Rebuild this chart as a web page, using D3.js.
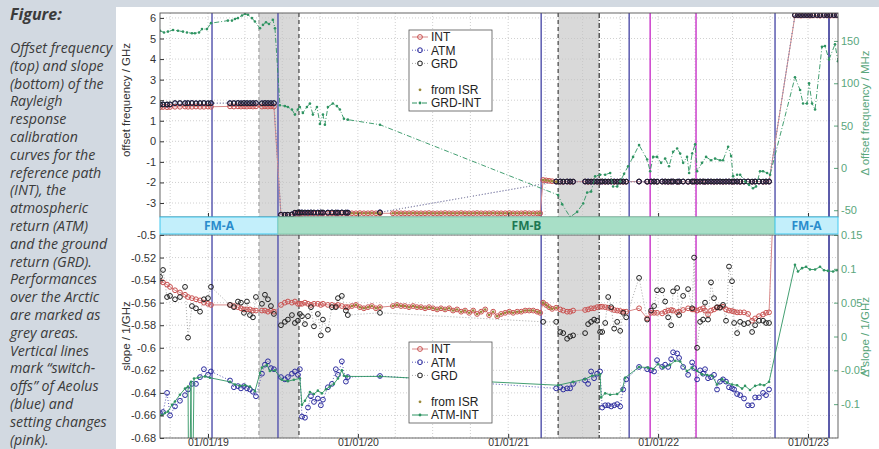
<!DOCTYPE html>
<html>
<head>
<meta charset="utf-8">
<script src="https://cdn.jsdelivr.net/npm/d3@7"></script>
<style>
  body { margin: 0; width: 879px; height: 449px; overflow: hidden; background: #d4dae2; }
  svg { display: block; }
</style>
</head>
<body>
<svg id="chart" width="879" height="449"></svg>
<script>
// Aeolus Rayleigh response calibration — offset (top) and slope (bottom)
// dates are decimal years, converted to UTC dates for the time scale

const captionLines = [
  'Offset frequency', '(top) and slope', '(bottom) of the', 'Rayleigh', 'response',
  'calibration', 'curves for the', 'reference path', '(INT), the', 'atmospheric',
  'return (ATM)', 'and the ground', 'return (GRD).', 'Performances', 'over the Arctic',
  'are marked as', 'grey  areas.', 'Vertical lines', 'mark \u201cswitch-', 'offs\u201d of Aeolus',
  '(blue) and', 'setting changes', '(pink).'
];

const xDomain = [2018.68, 2023.20];
const yearTicks = [2019, 2020, 2021, 2022, 2023];
const offTicks = [-3, -2, -1, 0, 1, 2, 3, 4, 5, 6];
const dOffTicks = [-50, 0, 50, 100, 150];
const slopeTicks = [-0.68, -0.66, -0.64, -0.62, -0.6, -0.58, -0.56, -0.54, -0.52, -0.5];
const dSlopeTicks = [-0.1, -0.05, 0, 0.05, 0.1, 0.15];

// events
const switchOffs = [2019.027, 2019.467, 2021.220, 2021.807, 2022.780, 2023.140];
const settingChanges = [2021.947, 2022.253];
const arctic = [[2019.340, 2019.607], [2021.333, 2021.607]];
const fmPeriods = [[2018.68, 2019.467, 'FM-A'], [2019.467, 2022.780, 'FM-B'], [2022.780, 2023.20, 'FM-A']];
const isrRange = [2019.95, 2021.33];

// calibration rows: [date, offINT, offATM, offGRD, slopeINT, slopeATM, slopeGRD]
const segA = [
  [2018.680, 1.66, 1.79, 1.80, -0.541, -0.658, -0.537],
  [2018.700, 1.67, 1.80, 1.79, -0.542, -0.657, -0.531],
  [2018.727, 1.66, 1.78, 1.80, -0.544, -0.640, -0.555],
  [2018.747, 1.67, 1.79, 1.80, -0.546, -0.660, -0.554],
  [2018.780, 1.68, 1.85, 1.86, -0.549, -0.652, -0.557],
  [2018.813, 1.68, 1.85, 1.86, -0.551, -0.647, -0.555],
  [2018.847, 1.69, 1.86, 1.85, -0.553, -0.642, -0.546],
  [2018.867, 1.68, 1.85, 1.86, -0.555, -0.637, -0.591],
  [2018.893, 1.68, 1.86, 1.86, -0.556, -0.632, -0.563],
  [2018.920, 1.69, 1.85, 1.85, -0.557, -0.632, -0.565],
  [2018.947, 1.68, 1.85, 1.86, -0.558, -0.626, -0.568],
  [2018.973, 1.68, 1.86, 1.86, -0.560, -0.619, -0.557],
  [2019.000, 1.69, 1.85, 1.85, -0.561, -0.624, -0.556],
  [2019.020, 1.68, 1.85, 1.86, -0.562, -0.621, -0.546],
  [2019.147, 1.70, 1.86, 1.85, -0.562, -0.629, -0.562],
  [2019.173, 1.69, 1.85, 1.86, -0.563, -0.635, -0.564],
  [2019.200, 1.70, 1.86, 1.86, -0.564, -0.634, -0.559],
  [2019.220, 1.69, 1.85, 1.85, -0.565, -0.636, -0.560],
  [2019.240, 1.70, 1.86, 1.86, -0.566, -0.634, -0.569],
  [2019.260, 1.69, 1.85, 1.86, -0.566, -0.636, -0.559],
  [2019.280, 1.70, 1.86, 1.85, -0.566, -0.637, -0.571],
  [2019.300, 1.69, 1.85, 1.86, -0.567, -0.639, -0.573],
  [2019.320, 1.70, 1.86, 1.86, -0.567, -0.643, -0.555],
  [2019.360, 1.69, 1.85, 1.85, -0.567, -0.623, -0.561],
  [2019.380, 1.70, 1.86, 1.86, -0.567, -0.615, -0.553],
  [2019.400, 1.69, 1.85, 1.86, -0.568, -0.612, -0.557],
  [2019.420, 1.70, 1.86, 1.85, -0.567, -0.618, -0.563],
  [2019.440, 1.69, 1.85, 1.86, -0.568, -0.619, -0.570]
];

const segB1 = [
  [2019.487, -3.58, -3.58, -3.57, -0.562, -0.626, -0.580],
  [2019.513, -3.58, -3.57, -3.58, -0.560, -0.628, -0.577],
  [2019.533, -3.57, -3.58, -3.57, -0.559, -0.626, -0.575],
  [2019.560, -3.56, -3.55, -3.56, -0.560, -0.623, -0.571],
  [2019.580, -3.54, -3.48, -3.47, -0.559, -0.621, -0.578],
  [2019.600, -3.53, -3.47, -3.46, -0.561, -0.624, -0.576],
  [2019.613, -3.53, -3.46, -3.47, -0.561, -0.619, -0.570],
  [2019.627, -3.53, -3.46, -3.46, -0.561, -0.661, -0.572],
  [2019.647, -3.52, -3.47, -3.46, -0.560, -0.662, -0.579],
  [2019.667, -3.52, -3.46, -3.47, -0.561, -0.653, -0.572],
  [2019.687, -3.52, -3.46, -3.46, -0.562, -0.643, -0.564],
  [2019.707, -3.52, -3.47, -3.46, -0.561, -0.648, -0.581],
  [2019.733, -3.52, -3.46, -3.47, -0.561, -0.645, -0.570],
  [2019.753, -3.51, -3.46, -3.46, -0.562, -0.651, -0.589],
  [2019.767, -3.51, -3.47, -3.46, -0.561, -0.646, -0.575],
  [2019.800, -3.51, -3.46, -3.47, -0.562, -0.635, -0.584],
  [2019.827, -3.51, -3.46, -3.46, -0.562, -0.632, -0.564],
  [2019.853, -3.51, -3.47, -3.46, -0.563, -0.619, -0.564],
  [2019.867, -3.51, -3.46, -3.47, -0.562, -0.624, -0.556],
  [2019.893, -3.50, -3.46, -3.46, -0.563, -0.612, -0.554],
  [2019.920, -3.50, -3.47, -3.46, -0.564, -0.630, -0.567],
  [2019.933, -3.50, -3.46, -3.47, -0.564, -0.626, -0.571]
];

const segB2 = [
  [2019.960, -3.50, null, null, -0.563, null, null],
  [2019.987, -3.50, null, null, -0.562, null, null],
  [2020.013, -3.49, null, null, -0.564, null, null],
  [2020.040, -3.50, null, null, -0.565, null, null],
  [2020.067, -3.50, null, null, -0.564, null, null],
  [2020.093, -3.49, null, null, -0.563, null, null],
  [2020.120, -3.50, null, null, -0.565, null, null],
  [2020.147, -3.50, -3.45, -3.46, -0.564, -0.625, -0.569],
  [2020.233, -3.50, null, null, -0.563, null, null],
  [2020.260, -3.49, null, null, -0.562, null, null],
  [2020.287, -3.50, null, null, -0.563, null, null],
  [2020.313, -3.50, null, null, -0.563, null, null],
  [2020.340, -3.50, null, null, -0.564, null, null],
  [2020.367, -3.49, null, null, -0.563, null, null],
  [2020.393, -3.50, null, null, -0.564, null, null],
  [2020.420, -3.50, null, null, -0.564, null, null],
  [2020.447, -3.50, null, null, -0.565, null, null],
  [2020.473, -3.49, null, null, -0.564, null, null],
  [2020.500, -3.50, null, null, -0.565, null, null],
  [2020.527, -3.50, null, null, -0.566, null, null],
  [2020.553, -3.50, null, null, -0.565, null, null],
  [2020.580, -3.49, null, null, -0.566, null, null],
  [2020.607, -3.50, null, null, -0.565, null, null],
  [2020.633, -3.50, null, null, -0.567, null, null],
  [2020.660, -3.50, null, null, -0.566, null, null],
  [2020.687, -3.49, null, null, -0.568, null, null],
  [2020.713, -3.50, null, null, -0.567, null, null],
  [2020.740, -3.50, null, null, -0.569, null, null],
  [2020.767, -3.50, null, null, -0.567, null, null],
  [2020.793, -3.49, null, null, -0.570, null, null],
  [2020.820, -3.50, null, null, -0.568, null, null],
  [2020.847, -3.50, null, null, -0.566, null, null],
  [2020.873, -3.50, null, null, -0.571, null, null],
  [2020.900, -3.49, null, null, -0.568, null, null],
  [2020.927, -3.50, null, null, -0.572, null, null],
  [2020.953, -3.50, null, null, -0.570, null, null],
  [2020.980, -3.50, null, null, -0.569, null, null],
  [2021.007, -3.49, null, null, -0.568, null, null],
  [2021.033, -3.50, null, null, -0.569, null, null],
  [2021.060, -3.50, null, null, -0.568, null, null],
  [2021.087, -3.50, null, null, -0.568, null, null],
  [2021.113, -3.49, null, null, -0.567, null, null],
  [2021.140, -3.50, null, null, -0.567, null, null],
  [2021.167, -3.50, null, null, -0.567, null, null],
  [2021.193, -3.50, null, null, -0.568, null, null],
  [2021.213, -3.50, null, null, -0.569, null, null]
];

const segB3 = [
  [2021.233, -1.88, null, null, -0.560, null, -0.577],
  [2021.253, -1.90, null, null, -0.562, null, null],
  [2021.273, -1.92, null, null, -0.564, null, null],
  [2021.293, -1.94, null, null, -0.5655, null, null],
  [2021.320, -1.96, -1.96, -1.95, -0.5645, -0.636, -0.577],
  [2021.347, -1.96, -1.95, -1.96, -0.566, -0.635, -0.586],
  [2021.367, -1.97, -1.96, -1.96, -0.567, -0.637, -0.587],
  [2021.393, -1.96, -1.96, -1.95, -0.568, -0.636, -0.592],
  [2021.413, -1.97, -1.95, -1.96, -0.568, -0.636, -0.590],
  [2021.433, -1.96, -1.96, -1.96, -0.567, -0.632, -0.589],
  [2021.513, -1.96, -1.96, -1.95, -0.5665, -0.629, -0.587],
  [2021.533, -1.97, -1.95, -1.96, -0.566, -0.632, -0.579],
  [2021.553, -1.96, -1.96, -1.96, -0.565, -0.621, -0.577],
  [2021.573, -1.96, -1.96, -1.95, -0.565, -0.627, -0.575],
  [2021.593, -1.97, -1.95, -1.96, -0.564, -0.623, -0.576],
  [2021.613, -1.96, -1.96, -1.96, -0.5636, -0.621, -0.586],
  [2021.627, -1.96, -1.96, -1.95, -0.5636, -0.653, -0.586],
  [2021.647, -1.97, -1.95, -1.96, -0.564, -0.651, -0.578],
  [2021.667, -1.96, -1.96, -1.96, -0.5645, -0.651, -0.555],
  [2021.687, -1.96, -1.96, -1.95, -0.5655, -0.652, -0.564],
  [2021.707, -1.97, -1.95, -1.96, -0.5665, -0.651, -0.583],
  [2021.727, -1.96, -1.96, -1.96, -0.567, -0.650, -0.577],
  [2021.747, -1.96, -1.96, -1.95, -0.5674, -0.652, -0.585],
  [2021.767, -1.97, -1.95, -1.96, -0.568, -0.637, -0.569],
  [2021.787, -1.96, -1.96, -1.96, -0.568, -0.628, -0.573],
  [2021.873, -1.96, -1.96, -1.95, -0.565, -0.617, -0.538],
  [2021.927, -1.97, -1.96, -1.96, -0.574, -0.619, -0.575],
  [2021.953, -1.96, -1.95, -1.96, -0.569, -0.620, -0.567],
  [2021.973, -1.96, -1.96, -1.95, -0.569, -0.621, -0.563],
  [2021.993, -1.97, -1.96, -1.96, -0.569, -0.611, -0.549],
  [2022.027, -1.96, -1.95, -1.96, -0.5695, -0.617, -0.549],
  [2022.047, -1.96, -1.96, -1.95, -0.568, -0.615, -0.559],
  [2022.067, -1.97, -1.96, -1.96, -0.567, -0.617, -0.573],
  [2022.087, -1.96, -1.95, -1.96, -0.5665, -0.610, -0.580],
  [2022.100, -1.96, -1.96, -1.95, -0.567, -0.604, -0.550],
  [2022.127, -1.97, -1.96, -1.96, -0.5686, -0.605, -0.547],
  [2022.140, -1.96, -1.95, -1.96, -0.568, -0.609, -0.571],
  [2022.167, -1.96, -1.96, -1.95, -0.5665, -0.617, -0.554],
  [2022.200, -1.97, -1.96, -1.96, -0.565, -0.624, -0.548],
  [2022.227, -1.96, -1.95, -1.96, -0.566, -0.613, -0.565],
  [2022.240, -1.96, -1.96, -1.95, -0.566, -0.618, -0.520],
  [2022.260, -1.97, -1.96, -1.96, -0.567, -0.628, -0.600],
  [2022.280, -1.96, -1.95, -1.96, -0.566, -0.620, -0.577],
  [2022.300, -1.96, -1.96, -1.95, -0.565, -0.623, -0.575],
  [2022.313, -1.97, -1.96, -1.96, -0.567, -0.619, -0.560],
  [2022.333, -1.96, -1.95, -1.96, -0.5705, -0.627, -0.575],
  [2022.353, -1.96, -1.96, -1.95, -0.567, -0.626, -0.542],
  [2022.373, -1.97, -1.96, -1.96, -0.566, -0.624, -0.556],
  [2022.393, -1.96, -1.95, -1.96, -0.5645, -0.637, -0.564],
  [2022.413, -1.96, -1.96, -1.95, -0.564, -0.630, -0.5645],
  [2022.433, -1.97, -1.96, -1.96, -0.5636, -0.628, -0.562],
  [2022.453, -1.96, -1.95, -1.96, -0.566, -0.630, -0.576],
  [2022.473, -1.96, -1.96, -1.95, -0.567, -0.635, -0.528],
  [2022.493, -1.97, -1.96, -1.96, -0.5674, -0.636, -0.541],
  [2022.507, -1.96, -1.95, -1.96, -0.568, -0.637, -0.578],
  [2022.527, -1.96, -1.96, -1.95, -0.5686, -0.641, -0.587],
  [2022.547, -1.97, -1.96, -1.96, -0.5686, -0.642, -0.577],
  [2022.573, -1.96, -1.95, -1.96, -0.5686, -0.645, -0.579],
  [2022.600, -1.96, -1.96, -1.95, -0.570, -0.651, -0.578],
  [2022.627, -1.97, -1.96, -1.96, -0.576, -0.651, -0.586],
  [2022.647, -1.96, -1.95, -1.96, -0.574, -0.644, -0.580],
  [2022.673, -1.96, -1.96, -1.95, -0.572, -0.644, -0.576],
  [2022.700, -1.97, -1.96, -1.96, -0.5705, -0.640, -0.576],
  [2022.720, -1.96, -1.95, -1.96, -0.569, -0.642, -0.578],
  [2022.740, -1.96, -1.96, -1.95, -0.5686, -0.637, -0.578]
];

const segA2 = [
  [2022.913, 6.12, 6.15, 6.14, 0.0, null, null],
  [2022.933, 6.12, 6.14, 6.15, 0.0, null, null],
  [2022.953, 6.11, 6.15, 6.14, 0.0, null, null],
  [2022.973, 6.12, 6.14, 6.15, 0.0, null, null],
  [2022.993, 6.12, 6.15, 6.14, 0.0, null, null],
  [2023.013, 6.11, 6.14, 6.15, 0.0, null, null],
  [2023.033, 6.12, 6.15, 6.14, 0.0, null, null],
  [2023.060, 6.12, 6.14, 6.15, 0.0, null, null],
  [2023.080, 6.11, 6.15, 6.14, 0.0, null, null],
  [2023.107, 6.12, 6.14, 6.15, 0.0, null, null],
  [2023.127, 6.12, 6.15, 6.14, 0.0, null, null],
  [2023.147, 6.11, 6.14, 6.15, 0.0, null, null],
  [2023.173, 6.12, 6.15, 6.14, 0.0, null, null],
  [2023.193, 6.12, 6.14, 6.15, 0.0, null, null]
];

// GRD-INT offset difference [date, MHz]
const grdMinusInt = [
  [2018.680, 162], [2018.707, 160], [2018.733, 161], [2018.767, 163], [2018.800, 162],
  [2018.833, 161], [2018.860, 160], [2018.893, 159], [2018.913, 159], [2018.940, 160],
  [2018.960, 164], [2018.993, 164], [2019.020, 171], [2019.133, 174], [2019.160, 174],
  [2019.180, 176], [2019.200, 177], [2019.227, 180], [2019.247, 182], [2019.267, 181],
  [2019.293, 177], [2019.313, 173], [2019.347, 165], [2019.367, 169], [2019.387, 172],
  [2019.407, 170], [2019.433, 175], [2019.447, 165],
  [2019.480, 74], [2019.513, 73], [2019.533, 72], [2019.560, 69], [2019.580, 63],
  [2019.600, 69], [2019.613, 72], [2019.633, 65], [2019.660, 72], [2019.680, 76],
  [2019.700, 63], [2019.727, 72], [2019.747, 52], [2019.767, 63], [2019.780, 51],
  [2019.800, 72], [2019.833, 76], [2019.860, 73], [2019.880, 69], [2019.907, 58],
  [2019.933, 57], [2020.147, 51],
  [2021.333, -32], [2021.360, -43], [2021.413, -58], [2021.460, -52], [2021.500, -42],
  [2021.527, -29], [2021.553, -28], [2021.580, -10], [2021.613, -8], [2021.647, -8],
  [2021.680, -6], [2021.700, -22], [2021.727, -22], [2021.747, -16], [2021.773, -7],
  [2021.800, 2], [2021.833, 13], [2021.873, 27], [2021.927, 10], [2021.947, -4],
  [2021.967, 13], [2021.993, 13], [2022.020, 6], [2022.047, 11], [2022.073, 2],
  [2022.100, 19], [2022.127, 23], [2022.147, 17], [2022.167, 6], [2022.193, 13],
  [2022.207, -6], [2022.227, 17], [2022.247, 28], [2022.260, -4], [2022.293, 6],
  [2022.320, 13], [2022.353, 9], [2022.380, 11], [2022.413, 9], [2022.433, 9],
  [2022.467, 25], [2022.487, 14], [2022.500, -10], [2022.527, -8], [2022.547, -8],
  [2022.580, -16], [2022.607, -20], [2022.633, -24], [2022.653, -22], [2022.680, -4],
  [2022.700, -4], [2022.727, -6], [2022.747, -8],
  [2022.913, 107], [2022.947, 92], [2022.967, 76], [2022.993, 76], [2023.007, 100],
  [2023.027, 76], [2023.047, 69], [2023.093, 143], [2023.113, 144], [2023.140, 128],
  [2023.180, 146], [2023.200, 126]
];

// ATM-INT slope difference [date, 1/GHz]
const atmMinusInt = [
  [2018.667, -0.116], [2018.693, -0.116], [2018.713, -0.113], [2018.733, -0.111], [2018.760, -0.101],
  [2018.780, -0.096], [2018.813, -0.086], [2018.847, -0.077], [2018.867, -0.074], [2018.873, -0.30],
  [2018.887, -0.067], [2018.893, -0.30], [2018.907, -0.062], [2018.933, -0.061], [2018.980, -0.059],
  [2019.013, -0.061], [2019.147, -0.067], [2019.180, -0.071], [2019.213, -0.073], [2019.247, -0.072],
  [2019.280, -0.074], [2019.313, -0.081], [2019.347, -0.054], [2019.360, -0.046], [2019.393, -0.042],
  [2019.413, -0.051], [2019.447, -0.050],
  [2019.493, -0.064], [2019.533, -0.066], [2019.573, -0.064], [2019.613, -0.062], [2019.627, -0.101],
  [2019.647, -0.095], [2019.680, -0.082], [2019.707, -0.085], [2019.733, -0.080], [2019.760, -0.084],
  [2019.787, -0.078], [2019.813, -0.074], [2019.840, -0.070], [2019.867, -0.062], [2019.893, -0.050],
  [2019.907, -0.058], [2019.927, -0.059], [2020.147, -0.059],
  [2021.333, -0.072], [2021.433, -0.067], [2021.513, -0.063], [2021.560, -0.058], [2021.613, -0.056],
  [2021.620, -0.090], [2021.647, -0.084], [2021.680, -0.086], [2021.727, -0.085], [2021.760, -0.079],
  [2021.780, -0.061], [2021.873, -0.045], [2021.933, -0.046], [2021.967, -0.048], [2022.000, -0.041],
  [2022.033, -0.046], [2022.080, -0.042], [2022.113, -0.036], [2022.147, -0.037], [2022.193, -0.051],
  [2022.227, -0.046], [2022.260, -0.051], [2022.293, -0.056], [2022.327, -0.057], [2022.360, -0.058],
  [2022.393, -0.071], [2022.427, -0.063], [2022.460, -0.068], [2022.493, -0.071], [2022.527, -0.072],
  [2022.560, -0.077], [2022.580, -0.073], [2022.613, -0.079], [2022.647, -0.073], [2022.680, -0.071],
  [2022.707, -0.072], [2022.740, -0.067],
  [2022.913, 0.106], [2022.933, 0.096], [2022.960, 0.101], [2022.987, 0.103], [2023.013, 0.099],
  [2023.047, 0.099], [2023.080, 0.103], [2023.107, 0.098], [2023.133, 0.097], [2023.167, 0.096],
  [2023.193, 0.098]
];

const cal = [].concat(segA, segB1, segB2, segB3, segA2);

// ---- helpers ----
const yd = y => {
  const Y = Math.floor(y), a = Date.UTC(Y, 0, 1), b = Date.UTC(Y + 1, 0, 1);
  return new Date(a + (y - Y) * (b - a));
};
const fmtNum = d => `${d}`;

const COL = {
  int: '#c9504f', intLine: '#d98a8a',
  atm: '#2b2b9e', atmLine: '#5a5ab8',
  grd: '#1e1e1e', grdLine: '#a8a8a8',
  isr: '#9a8838',
  diff: '#2f9462', diffAxis: '#5aa67c',
  blue: '#5b5bb0', pink: '#cc3fcc',
  grid: '#c4c4c4'
};

const W = 879, H = 449, L = 160, R = 838;
const svg = d3.select('#chart');
svg.append('rect').attr('width', W).attr('height', H).attr('fill', '#d2d9e1');
svg.append('rect').attr('x', 116).attr('y', 7).attr('width', W - 116).attr('height', H - 7).attr('fill', '#fff');

// caption
const cap = svg.append('g')
  .attr('font-family', '"Open Sans", "Noto Sans", sans-serif')
  .attr('font-style', 'italic').attr('fill', '#3b3b3b')
  .style('white-space', 'pre');
cap.append('text').attr('x', 10).attr('y', 20).attr('font-size', 16).attr('font-weight', 'bold').text('Figure:');
captionLines.forEach((t, i) => {
  cap.append('text').attr('x', 10).attr('y', 53 + i * 17.8).attr('font-size', 14.2).text(t);
});

const x = d3.scaleUtc().domain(xDomain.map(yd)).range([L, R]);
const quarters = x.ticks(d3.utcMonth.every(3));

function panel(o) {
  const g = svg.append('g');
  const id = 'clip' + o.y0;
  svg.append('clipPath').attr('id', id).append('rect')
    .attr('x', L).attr('y', o.y0).attr('width', R - L).attr('height', o.y1 - o.y0);

  // arctic areas
  arctic.forEach(a => {
    g.append('rect').attr('x', x(yd(a[0]))).attr('y', o.y0)
      .attr('width', x(yd(a[1])) - x(yd(a[0]))).attr('height', o.y1 - o.y0)
      .attr('fill', '#d9d9d9');
  });

  // grid
  g.append('g').selectAll('line').data(quarters).join('line')
    .attr('x1', d => x(d)).attr('x2', d => x(d)).attr('y1', o.y0).attr('y2', o.y1)
    .attr('stroke', COL.grid).attr('stroke-width', 0.8).attr('stroke-dasharray', '1,2');
  g.append('g').selectAll('line').data(o.lTicks).join('line')
    .attr('x1', L).attr('x2', R).attr('y1', d => o.yL(d)).attr('y2', d => o.yL(d))
    .attr('stroke', COL.grid).attr('stroke-width', 0.8).attr('stroke-dasharray', '1,2');

  // arctic boundaries
  const edgeStyle = [['#9a9a9a', '4,3'], ['#333', '4,3'], ['#333', '4,3'], ['#222', '5,2,1,2']];
  arctic.flat().forEach((d, i) => {
    g.append('line').attr('x1', x(yd(d))).attr('x2', x(yd(d))).attr('y1', o.y0).attr('y2', o.y1)
      .attr('stroke', edgeStyle[i][0]).attr('stroke-width', 1.1).attr('stroke-dasharray', edgeStyle[i][1]);
  });

  // event lines
  switchOffs.forEach((d, i) => {
    g.append('line').attr('x1', x(yd(d))).attr('x2', x(yd(d))).attr('y1', o.y0).attr('y2', o.y1)
      .attr('stroke', i === switchOffs.length - 1 ? '#26268f' : COL.blue).attr('stroke-width', 1.5);
  });
  settingChanges.forEach(d => {
    g.append('line').attr('x1', x(yd(d))).attr('x2', x(yd(d))).attr('y1', o.y0).attr('y2', o.y1)
      .attr('stroke', COL.pink).attr('stroke-width', 1.5);
  });

  // data
  const data = g.append('g').attr('clip-path', `url(#${id})`);
  const line = d3.line().x(d => x(yd(d[0]))).y(d => o.yL(d[1]));
  const series = [
    { c: o.cols[0], stroke: COL.intLine, dash: null, mk: COL.int },
    { c: o.cols[1], stroke: COL.atmLine, dash: '1,2', mk: COL.atm },
    { c: o.cols[2], stroke: COL.grdLine, dash: '1,2', mk: COL.grd }
  ];
  series.forEach(s => {
    const pts = cal.filter(r => r[s.c] != null).map(r => [r[0], r[s.c]]);
    data.append('path').datum(pts).attr('d', line).attr('fill', 'none')
      .attr('stroke', s.stroke).attr('stroke-width', 1).attr('stroke-dasharray', s.dash);
    s.pts = pts;
  });
  series.forEach(s => {
    data.append('g').selectAll('circle').data(s.pts).join('circle')
      .attr('cx', d => x(yd(d[0]))).attr('cy', d => o.yL(d[1])).attr('r', 2.4)
      .attr('fill', 'none').attr('stroke', s.mk).attr('stroke-width', 1);
  });
  // ISR-derived points sit on the INT values
  const isr = series[0].pts.filter(d => d[0] >= isrRange[0] && d[0] <= isrRange[1]);
  data.append('g').selectAll('circle').data(isr).join('circle')
    .attr('cx', d => x(yd(d[0]))).attr('cy', d => o.yL(d[1])).attr('r', 1.3)
    .attr('fill', COL.isr);

  // difference series on right axis
  const dline = d3.line().x(d => x(yd(d[0]))).y(d => o.yR(d[1]));
  data.append('path').datum(o.diff).attr('d', dline).attr('fill', 'none')
    .attr('stroke', COL.diff).attr('stroke-width', 0.9).attr('stroke-dasharray', o.diffDash);
  data.append('g').selectAll('circle').data(o.diff).join('circle')
    .attr('cx', d => x(yd(d[0]))).attr('cy', d => o.yR(d[1])).attr('r', 1.3)
    .attr('fill', COL.diff);

  // axes
  g.append('g').attr('transform', `translate(${L},0)`).attr('color', '#333')
    .call(d3.axisLeft(o.yL).tickValues(o.lTicks).tickFormat(fmtNum).tickSize(-4).tickPadding(4))
    .call(a => a.select('.domain').remove())
    .call(a => a.selectAll('text').attr('font-size', 11).attr('font-family', '"Liberation Sans", Arial, sans-serif'));
  g.append('g').attr('transform', `translate(${R},0)`).attr('color', COL.diffAxis)
    .call(d3.axisRight(o.yR).tickValues(o.rTicks).tickFormat(fmtNum).tickSize(-4).tickPadding(3))
    .call(a => a.select('.domain').remove())
    .call(a => a.selectAll('text').attr('font-size', 11).attr('font-family', '"Liberation Sans", Arial, sans-serif'));
  g.append('g').attr('transform', `translate(0,${o.y1})`).attr('color', '#333')
    .call(d3.axisBottom(x).tickValues(yearTicks.map(yd)).tickSize(-4).tickPadding(1)
      .tickFormat(o.showX ? d3.utcFormat('%d/%m/%y') : () => ''))
    .call(a => a.select('.domain').remove())
    .call(a => a.selectAll('text').attr('font-size', 10.5).attr('font-family', '"Liberation Sans", Arial, sans-serif'));

  g.append('rect').attr('x', L).attr('y', o.y0).attr('width', R - L).attr('height', o.y1 - o.y0)
    .attr('fill', 'none').attr('stroke', '#555').attr('stroke-width', 0.9);

  // axis titles
  g.append('text').attr('transform', `translate(130,${o.lTitleY}) rotate(-90)`)
    .attr('text-anchor', 'middle').attr('font-size', 11.5).attr('fill', '#333')
    .attr('font-family', '"Liberation Sans", Arial, sans-serif').text(o.lTitle);
  g.append('text').attr('transform', `translate(869,${o.rTitleY}) rotate(-90)`)
    .attr('text-anchor', 'middle').attr('font-size', 11.5).attr('fill', COL.diffAxis)
    .attr('font-family', '"Liberation Sans", Arial, sans-serif').text(o.rTitle);

  // legend
  const lg = g.append('g').attr('font-family', '"Liberation Sans", Arial, sans-serif').attr('font-size', 12);
  lg.append('rect').attr('x', 409).attr('y', o.legY).attr('width', 83).attr('height', 81)
    .attr('fill', '#fff').attr('stroke', '#555').attr('stroke-width', 0.8);
  const entries = [
    { t: 'INT', stroke: COL.intLine, dash: null, mk: COL.int },
    { t: 'ATM', stroke: COL.atmLine, dash: '1,2', mk: COL.atm },
    { t: 'GRD', stroke: COL.grdLine, dash: '1,2', mk: COL.grd },
    null,
    { t: 'from ISR', dot: COL.isr },
    { t: o.diffName, stroke: COL.diff, dash: o.diffDash, dot: COL.diff }
  ];
  entries.forEach((e, i) => {
    if (!e) return;
    const yy = o.legY + 7 + i * 13.2;
    if (e.stroke) lg.append('line').attr('x1', 412).attr('x2', 428).attr('y1', yy).attr('y2', yy)
      .attr('stroke', e.stroke).attr('stroke-dasharray', e.dash);
    if (e.mk) lg.append('circle').attr('cx', 420).attr('cy', yy).attr('r', 2.4)
      .attr('fill', 'none').attr('stroke', e.mk);
    if (e.dot) lg.append('circle').attr('cx', 420).attr('cy', yy).attr('r', 1.4).attr('fill', e.dot);
    lg.append('text').attr('x', 431).attr('y', yy + 4.3).attr('fill', '#222').text(e.t);
  });
}

panel({
  y0: 13, y1: 217,
  yL: d3.scaleLinear().domain([-3.68, 6.24]).range([217, 13]),
  yR: d3.scaleLinear().domain([-58, 183]).range([217, 13]),
  lTicks: offTicks, rTicks: dOffTicks, cols: [1, 2, 3],
  diff: grdMinusInt, diffDash: '5,2,1,2', diffName: 'GRD-INT',
  lTitle: 'offset frequency / GHz', lTitleY: 100,
  rTitle: '\u0394 offset frequency / MHz', rTitleY: 113,
  legY: 30, showX: false
});

panel({
  y0: 235, y1: 438,
  yL: d3.scaleLinear().domain([-0.68, -0.5]).range([438, 235]),
  yR: d3.scaleLinear().domain([-0.15, 0.15]).range([438, 235]),
  lTicks: slopeTicks, rTicks: dSlopeTicks, cols: [4, 5, 6],
  diff: atmMinusInt, diffDash: null, diffName: 'ATM-INT',
  lTitle: 'slope / 1/GHz', lTitleY: 336,
  rTitle: '\u0394 slope / 1/GHz', rTitleY: 337,
  legY: 342, showX: true
});

// FM model bar
const fmStyle = { 'FM-A': ['#c3effb', '#3fc8ef', '#2a8ccc'], 'FM-B': ['#a8dfc7', '#86cbb0', '#1d7853'] };
const bar = svg.append('g');
fmPeriods.forEach(p => {
  const s = fmStyle[p[2]], x0 = x(yd(p[0])), x1 = x(yd(p[1]));
  bar.append('rect').attr('x', x0).attr('y', 217).attr('width', x1 - x0).attr('height', 17)
    .attr('fill', s[0]).attr('stroke', s[1]).attr('stroke-width', 1);
  bar.append('text').attr('x', (x0 + x1) / 2).attr('y', 230).attr('text-anchor', 'middle')
    .attr('font-family', '"Open Sans", "Noto Sans", sans-serif').attr('font-weight', 'bold')
    .attr('font-size', 12).attr('fill', s[2]).text(p[2]);
});
</script>
</body>
</html>
